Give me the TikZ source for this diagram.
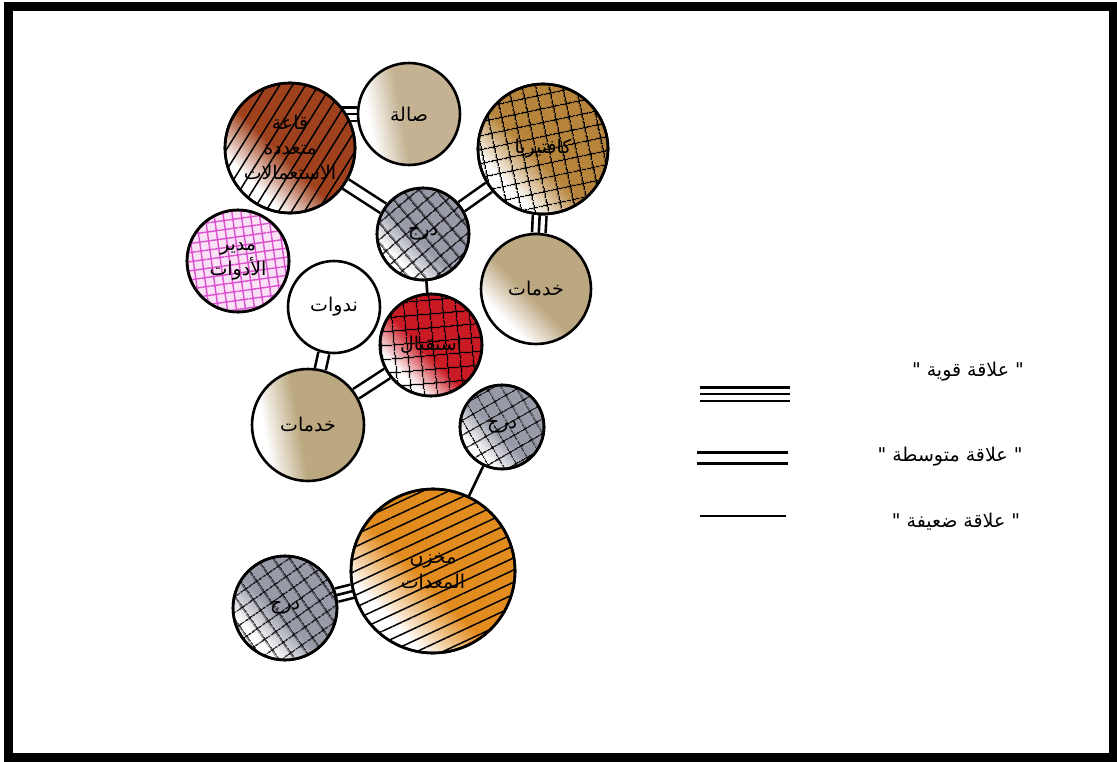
\documentclass[tikz,border=0pt]{standalone}
\usepackage{fontspec}
\newfontfamily\arabicfont[Script=Arabic]{DejaVu Sans}
\TeXXeTstate=1
\usepackage{xcolor}
\usetikzlibrary{patterns.meta, backgrounds}

\definecolor{rust}{RGB}{160,65,30}
\definecolor{tan}{RGB}{196,178,146}
\definecolor{sand}{RGB}{188,168,128}
\definecolor{caramel}{RGB}{182,132,58}
\definecolor{slate}{RGB}{152,154,168}
\definecolor{crimson}{RGB}{202,26,36}
\definecolor{amber}{RGB}{226,140,32}
\definecolor{blush}{RGB}{250,226,246}
\definecolor{magentaink}{RGB}{220,80,206}
\colorlet{washcol}{tan}

% marker wash: white patch on one side, solid colour elsewhere
\pgfdeclareverticalshading[washcol]{wash}{100bp}{color(0bp)=(white); color(30bp)=(white); color(46bp)=(washcol); color(100bp)=(washcol)}

\begin{document}
\begin{tikzpicture}[
    x=1pt, y=-1pt,
    bubble/.style={circle, draw, line width=2.6pt, inner sep=0pt, align=center, font=\arabicfont\fontsize{19}{25}\selectfont},
    washed/.style={/utils/exec={\colorlet{washcol}{#1}}, shade, shading=wash, shading angle=-45},
    side washed/.style={/utils/exec={\colorlet{washcol}{#1}}, shade, shading=wash, shading angle=-80},
    lines hatch/.style={postaction={pattern={Lines[angle=#1, distance=11pt, line width=1.5pt]}, pattern color=black}, postaction={draw, line width=2.6pt}},
    grid hatch/.style={postaction={pattern={Hatch[angle=#1, distance=13pt, line width=1.3pt]}, pattern color=black}, postaction={draw, line width=2.6pt}},
    pink hatch/.style={postaction={pattern={Hatch[angle=#1, distance=9pt, line width=1.4pt]}, pattern color=magentaink}, postaction={draw, line width=2.6pt}},
    strong/.style={line width=2.6pt, double, double distance=11pt, postaction={draw, line width=2.6pt}},
    medium/.style={line width=2.6pt, double, double distance=8.5pt},
    weak/.style={line width=2.6pt},
    legend/.style={font=\arabicfont\fontsize{19}{22}\selectfont}
]
\useasboundingbox (0,0) rectangle (1117,761);

% Frame
\draw[line width=9pt] (8,6.5) rectangle (1113,757);

% Upper row
\node[bubble, washed=rust, lines hatch=58, minimum size=130pt] (hall) at (290,148)
    {\beginR قاعة\endR\\\beginR متعددة\endR\\\beginR الاستعمالات\endR};
\node[bubble, side washed=tan, minimum size=102pt] (lounge) at (409,114) {\beginR صالة\endR};
\node[bubble, washed=caramel, grid hatch=12, minimum size=130pt] (cafe) at (543,149) {\beginR كافتيريا\endR};

% Middle
\node[bubble, washed=slate, grid hatch=40, minimum size=92pt] (stairs) at (423,234) {\beginR درج\endR};
\node[bubble, washed=sand, minimum size=110pt] (services_r) at (536,289) {\beginR خدمات\endR};
\node[bubble, fill=blush, pink hatch=8, minimum size=102pt] (tools) at (238,261)
    {\beginR مدير\endR\\\beginR الأدوات\endR};
\node[bubble, fill=white, minimum size=92pt] (seminars) at (334,307) {\beginR ندوات\endR};
\node[bubble, washed=crimson, grid hatch=5, minimum size=102pt] (reception) at (431,345) {\beginR استقبال\endR};
\node[bubble, side washed=sand, minimum size=112pt] (services_l) at (308,425) {\beginR خدمات\endR};

% Lower part
\node[bubble, washed=slate, grid hatch=30, minimum size=84pt] (stairs_b) at (502,427) {\beginR درج\endR};
\node[bubble, washed=amber, lines hatch=25, minimum size=164pt] (store) at (433,571)
    {\beginR مخزن\endR\\\beginR المعدات\endR};
\node[bubble, washed=slate, grid hatch=35, minimum size=104pt] (stairs_c) at (285,608) {\beginR درج\endR};

% Relations
\begin{scope}[on background layer]
\draw[strong] (lounge.west) -- (lounge.west -| hall.center);
\draw[medium] (hall) -- (stairs);
\draw[medium] (cafe) -- (stairs);
\draw[strong] (cafe) -- (services_r);
\draw[weak] (stairs) -- (reception);
\draw[medium] (seminars) -- (services_l);
\draw[medium] (reception) -- (services_l);
\draw[weak] (stairs_b) -- (store);
\draw[strong] (store) -- (stairs_c);
\end{scope}

% Legend
\coordinate (strong_a) at (700,394);
\coordinate (strong_b) at (790,394);
\coordinate (medium_a) at (697,458);
\coordinate (medium_b) at (788,458);
\coordinate (weak_a) at (700,516);
\coordinate (weak_b) at (786,516);
\draw[strong] (strong_a) -- (strong_b);
\draw[medium] (medium_a) -- (medium_b);
\draw[weak] (weak_a) -- (weak_b);
\node[legend] (strong_txt) at (968,372) {\beginR" علاقة قوية "\endR};
\node[legend] (medium_txt) at (950,457) {\beginR" علاقة متوسطة "\endR};
\node[legend] (weak_txt) at (956,522) {\beginR" علاقة ضعيفة "\endR};

\end{tikzpicture}
\end{document}
